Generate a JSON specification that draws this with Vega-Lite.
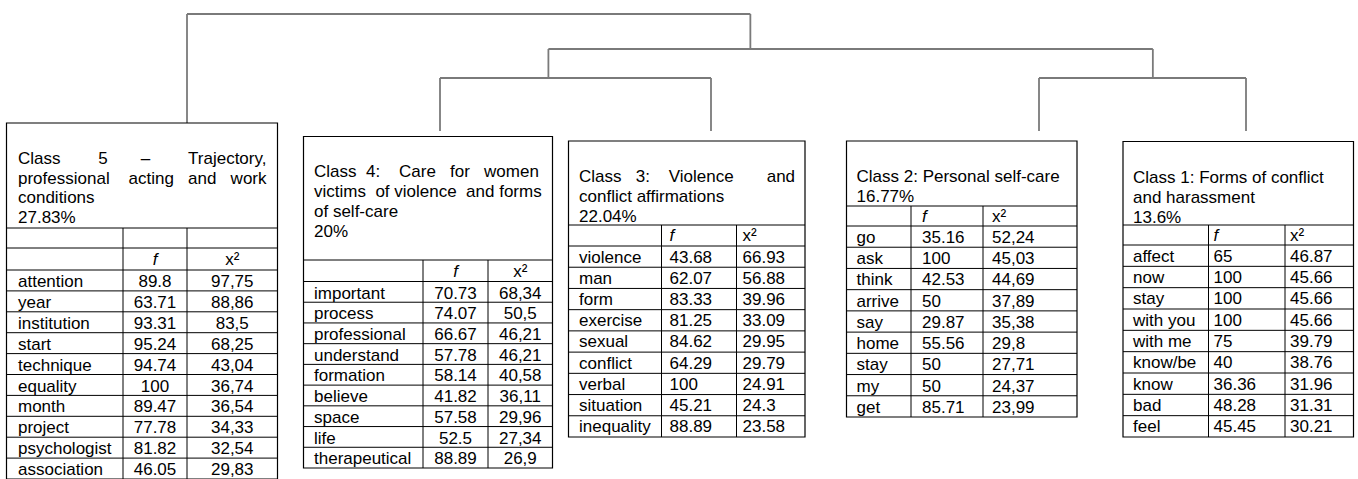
{
  "$schema": "https://vega.github.io/schema/vega-lite/v6.json",
  "width": 1358,
  "height": 479,
  "padding": 0,
  "autosize": {"type": "none"},
  "background": "#ffffff",
  "config": {
    "view": {"stroke": null},
    "axis": {"disable": true},
    "text": {"font": "Liberation Sans", "fontSize": 17, "color": "#000000"},
    "rule": {"color": "#000000", "strokeWidth": 1}
  },
  "datasets": {
    "tree": [
      {"seg": "class 5", "pos": 1, "pos2": 1, "level": 0, "level2": 3},
      {"seg": "class 4", "pos": 2, "pos2": 2, "level": 0, "level2": 1},
      {"seg": "class 3", "pos": 3, "pos2": 3, "level": 0, "level2": 1},
      {"seg": "class 2", "pos": 4, "pos2": 4, "level": 0, "level2": 1},
      {"seg": "class 1", "pos": 5, "pos2": 5, "level": 0, "level2": 1},
      {"seg": "4+3", "pos": 2, "pos2": 3, "level": 1, "level2": 1},
      {"seg": "2+1", "pos": 4, "pos2": 5, "level": 1, "level2": 1},
      {"seg": "4+3 up", "pos": 2.4, "pos2": 2.4, "level": 1, "level2": 2},
      {"seg": "2+1 up", "pos": 4.55, "pos2": 4.55, "level": 1, "level2": 2},
      {"seg": "(4+3)+(2+1)", "pos": 2.4, "pos2": 4.55, "level": 2, "level2": 2},
      {"seg": "(4+3)+(2+1) up", "pos": 3.12, "pos2": 3.12, "level": 2, "level2": 3},
      {"seg": "5+rest", "pos": 1, "pos2": 3.12, "level": 3, "level2": 3}
    ],
    "classes": [
      {"cls": 5, "title": "Class\u00a0\u00a0\u00a0\u00a0\u00a0\u00a0\u00a0\u00a05\u00a0\u00a0\u00a0\u00a0\u00a0\u00a0\u00a0–\u00a0\u00a0\u00a0\u00a0\u00a0\u00a0\u00a0\u00a0Trajectory,\nprofessional\u00a0\u00a0\u00a0\u00a0acting\u00a0\u00a0\u00a0and\u00a0\u00a0\u00a0work\nconditions\n27.83%"},
      {"cls": 4, "title": "Class\u00a0\u00a04:\u00a0\u00a0\u00a0\u00a0Care\u00a0\u00a0\u00a0for\u00a0\u00a0\u00a0women\nvictims\u00a0\u00a0of violence\u00a0\u00a0and forms\nof self-care\n20%"},
      {"cls": 3, "title": "Class\u00a0\u00a0\u00a03:\u00a0\u00a0\u00a0\u00a0Violence\u00a0\u00a0\u00a0\u00a0\u00a0\u00a0\u00a0and\nconflict affirmations\n22.04%"},
      {"cls": 2, "title": "Class 2: Personal self-care\n16.77%"},
      {"cls": 1, "title": "Class 1: Forms of conflict\nand harassment\n13.6%"}
    ],
    "words": [
      {"cls": 5, "rank": 1, "word": "attention", "f": 89.8, "chi": "97,75"},
      {"cls": 5, "rank": 2, "word": "year", "f": 63.71, "chi": "88,86"},
      {"cls": 5, "rank": 3, "word": "institution", "f": 93.31, "chi": "83,5"},
      {"cls": 5, "rank": 4, "word": "start", "f": 95.24, "chi": "68,25"},
      {"cls": 5, "rank": 5, "word": "technique", "f": 94.74, "chi": "43,04"},
      {"cls": 5, "rank": 6, "word": "equality", "f": 100, "chi": "36,74"},
      {"cls": 5, "rank": 7, "word": "month", "f": 89.47, "chi": "36,54"},
      {"cls": 5, "rank": 8, "word": "project", "f": 77.78, "chi": "34,33"},
      {"cls": 5, "rank": 9, "word": "psychologist", "f": 81.82, "chi": "32,54"},
      {"cls": 5, "rank": 10, "word": "association", "f": 46.05, "chi": "29,83"},
      {"cls": 4, "rank": 1, "word": "important", "f": 70.73, "chi": "68,34"},
      {"cls": 4, "rank": 2, "word": "process", "f": 74.07, "chi": "50,5"},
      {"cls": 4, "rank": 3, "word": "professional", "f": 66.67, "chi": "46,21"},
      {"cls": 4, "rank": 4, "word": "understand", "f": 57.78, "chi": "46,21"},
      {"cls": 4, "rank": 5, "word": "formation", "f": 58.14, "chi": "40,58"},
      {"cls": 4, "rank": 6, "word": "believe", "f": 41.82, "chi": "36,11"},
      {"cls": 4, "rank": 7, "word": "space", "f": 57.58, "chi": "29,96"},
      {"cls": 4, "rank": 8, "word": "life", "f": 52.5, "chi": "27,34"},
      {"cls": 4, "rank": 9, "word": "therapeutical", "f": 88.89, "chi": "26,9"},
      {"cls": 3, "rank": 1, "word": "violence", "f": 43.68, "chi": "66.93"},
      {"cls": 3, "rank": 2, "word": "man", "f": 62.07, "chi": "56.88"},
      {"cls": 3, "rank": 3, "word": "form", "f": 83.33, "chi": "39.96"},
      {"cls": 3, "rank": 4, "word": "exercise", "f": 81.25, "chi": "33.09"},
      {"cls": 3, "rank": 5, "word": "sexual", "f": 84.62, "chi": "29.95"},
      {"cls": 3, "rank": 6, "word": "conflict", "f": 64.29, "chi": "29.79"},
      {"cls": 3, "rank": 7, "word": "verbal", "f": 100, "chi": "24.91"},
      {"cls": 3, "rank": 8, "word": "situation", "f": 45.21, "chi": "24.3"},
      {"cls": 3, "rank": 9, "word": "inequality", "f": 88.89, "chi": "23.58"},
      {"cls": 2, "rank": 1, "word": "go", "f": 35.16, "chi": "52,24"},
      {"cls": 2, "rank": 2, "word": "ask", "f": 100, "chi": "45,03"},
      {"cls": 2, "rank": 3, "word": "think", "f": 42.53, "chi": "44,69"},
      {"cls": 2, "rank": 4, "word": "arrive", "f": 50, "chi": "37,89"},
      {"cls": 2, "rank": 5, "word": "say", "f": 29.87, "chi": "35,38"},
      {"cls": 2, "rank": 6, "word": "home", "f": 55.56, "chi": "29,8"},
      {"cls": 2, "rank": 7, "word": "stay", "f": 50, "chi": "27,71"},
      {"cls": 2, "rank": 8, "word": "my", "f": 50, "chi": "24,37"},
      {"cls": 2, "rank": 9, "word": "get", "f": 85.71, "chi": "23,99"},
      {"cls": 1, "rank": 1, "word": "affect", "f": 65, "chi": "46.87"},
      {"cls": 1, "rank": 2, "word": "now", "f": 100, "chi": "45.66"},
      {"cls": 1, "rank": 3, "word": "stay", "f": 100, "chi": "45.66"},
      {"cls": 1, "rank": 4, "word": "with you", "f": 100, "chi": "45.66"},
      {"cls": 1, "rank": 5, "word": "with me", "f": 75, "chi": "39.79"},
      {"cls": 1, "rank": 6, "word": "know/be", "f": 40, "chi": "38.76"},
      {"cls": 1, "rank": 7, "word": "know", "f": 36.36, "chi": "31.96"},
      {"cls": 1, "rank": 8, "word": "bad", "f": 48.28, "chi": "31.31"},
      {"cls": 1, "rank": 9, "word": "feel", "f": 45.45, "chi": "30.21"}
    ]
  },
  "layer": [
    {
      "data": {"name": "tree"},
      "mark": {"type": "rule", "color": "#7a7a7a", "strokeWidth": 1.8},
      "encoding": {
        "x": {"field": "pos", "type": "quantitative", "axis": null, "scale": {"domain": [1, 2, 3, 4, 5], "range": [187, 440, 711, 1039, 1246], "nice": false, "zero": false}},
        "x2": {"field": "pos2"},
        "y": {"field": "level", "type": "quantitative", "axis": null, "scale": {"domain": [0, 1, 2, 3], "range": [131, 78, 49, 14], "nice": false, "zero": false}},
        "y2": {"field": "level2"}
      }
    },
    {
      "data": {"name": "classes"},
      "transform": [{"filter": "datum.cls == 5"}],
      "layer": [
        {"mark": {"type": "rect", "fill": "#ffffff", "stroke": "#000000", "strokeWidth": 1.2},
         "encoding": {
           "x": {"datum": 0, "type": "quantitative", "axis": null, "scale": {"domain": [0, 1, 2, 3], "range": [6.5, 123, 187, 277.5], "nice": false, "zero": false}},
           "x2": {"datum": 3},
           "y": {"datum": -2, "type": "quantitative", "axis": null, "scale": {"domain": [-2, -1, 0, 1, 11], "range": [123, 228, 248, 270, 479], "nice": false, "zero": false}},
           "y2": {"datum": 11}}},
        {"mark": {"type": "rule"}, "encoding": {"x": {"datum": 0, "type": "quantitative", "axis": null}, "x2": {"datum": 3}, "y": {"datum": -1, "type": "quantitative", "axis": null}}},
        {"mark": {"type": "rule"}, "encoding": {"x": {"datum": 0, "type": "quantitative", "axis": null}, "x2": {"datum": 3}, "y": {"datum": 0, "type": "quantitative", "axis": null}}},
        {"mark": {"type": "rule"}, "encoding": {"x": {"datum": 1, "type": "quantitative", "axis": null}, "y": {"datum": -1, "type": "quantitative", "axis": null}, "y2": {"datum": 11}}},
        {"mark": {"type": "rule"}, "encoding": {"x": {"datum": 2, "type": "quantitative", "axis": null}, "y": {"datum": -1, "type": "quantitative", "axis": null}, "y2": {"datum": 11}}},
        {"mark": {"type": "text", "align": "left", "baseline": "top", "dx": 11.5, "dy": 28, "lineBreak": "\n", "lineHeight": 19.5},
         "encoding": {"x": {"datum": 0, "type": "quantitative", "axis": null}, "y": {"datum": -2, "type": "quantitative", "axis": null}, "text": {"field": "title", "type": "nominal"}}},
        {"mark": {"type": "text", "text": "f", "fontStyle": "italic", "align": "center", "baseline": "alphabetic", "dy": 17},
         "encoding": {"x": {"datum": 1.5, "type": "quantitative", "axis": null}, "y": {"datum": 0, "type": "quantitative", "axis": null}}},
        {"mark": {"type": "text", "text": "x²", "align": "center", "baseline": "alphabetic", "dy": 17},
         "encoding": {"x": {"datum": 2.5, "type": "quantitative", "axis": null}, "y": {"datum": 0, "type": "quantitative", "axis": null}}},
        {"data": {"name": "words"}, "transform": [{"filter": "datum.cls == 5"}],
         "layer": [
           {"mark": {"type": "rule"}, "encoding": {"x": {"datum": 0, "type": "quantitative", "axis": null}, "x2": {"datum": 3}, "y": {"field": "rank", "type": "quantitative", "axis": null}}},
           {"mark": {"type": "text", "align": "left", "baseline": "alphabetic", "dx": 11.5, "dy": 17}, "encoding": {"x": {"datum": 0, "type": "quantitative", "axis": null}, "y": {"field": "rank", "type": "quantitative", "axis": null}, "text": {"field": "word", "type": "nominal"}}},
           {"mark": {"type": "text", "align": "center", "baseline": "alphabetic", "dy": 17}, "encoding": {"x": {"datum": 1.5, "type": "quantitative", "axis": null}, "y": {"field": "rank", "type": "quantitative", "axis": null}, "text": {"field": "f", "type": "nominal"}}},
           {"mark": {"type": "text", "align": "center", "baseline": "alphabetic", "dy": 17}, "encoding": {"x": {"datum": 2.5, "type": "quantitative", "axis": null}, "y": {"field": "rank", "type": "quantitative", "axis": null}, "text": {"field": "chi", "type": "nominal"}}}
         ]}
      ]
    },
    {
      "data": {"name": "classes"},
      "transform": [{"filter": "datum.cls == 4"}],
      "layer": [
        {"mark": {"type": "rect", "fill": "#ffffff", "stroke": "#000000", "strokeWidth": 1.2},
         "encoding": {
           "x": {"datum": 0, "type": "quantitative", "axis": null, "scale": {"domain": [0, 1, 2, 3], "range": [303.5, 423, 488, 552.5], "nice": false, "zero": false}},
           "x2": {"datum": 3},
           "y": {"datum": -1, "type": "quantitative", "axis": null, "scale": {"domain": [-1, 0, 1, 10], "range": [136.5, 260, 281.5, 468], "nice": false, "zero": false}},
           "y2": {"datum": 10}}},
        {"mark": {"type": "rule"}, "encoding": {"x": {"datum": 0, "type": "quantitative", "axis": null}, "x2": {"datum": 3}, "y": {"datum": 0, "type": "quantitative", "axis": null}}},
        {"mark": {"type": "rule"}, "encoding": {"x": {"datum": 1, "type": "quantitative", "axis": null}, "y": {"datum": 0, "type": "quantitative", "axis": null}, "y2": {"datum": 10}}},
        {"mark": {"type": "rule"}, "encoding": {"x": {"datum": 2, "type": "quantitative", "axis": null}, "y": {"datum": 0, "type": "quantitative", "axis": null}, "y2": {"datum": 10}}},
        {"mark": {"type": "text", "align": "left", "baseline": "top", "dx": 10.5, "dy": 27, "lineBreak": "\n", "lineHeight": 20},
         "encoding": {"x": {"datum": 0, "type": "quantitative", "axis": null}, "y": {"datum": -1, "type": "quantitative", "axis": null}, "text": {"field": "title", "type": "nominal"}}},
        {"mark": {"type": "text", "text": "f", "fontStyle": "italic", "align": "center", "baseline": "alphabetic", "dy": 17},
         "encoding": {"x": {"datum": 1.5, "type": "quantitative", "axis": null}, "y": {"datum": 0, "type": "quantitative", "axis": null}}},
        {"mark": {"type": "text", "text": "x²", "align": "center", "baseline": "alphabetic", "dy": 17},
         "encoding": {"x": {"datum": 2.5, "type": "quantitative", "axis": null}, "y": {"datum": 0, "type": "quantitative", "axis": null}}},
        {"data": {"name": "words"}, "transform": [{"filter": "datum.cls == 4"}],
         "layer": [
           {"mark": {"type": "rule"}, "encoding": {"x": {"datum": 0, "type": "quantitative", "axis": null}, "x2": {"datum": 3}, "y": {"field": "rank", "type": "quantitative", "axis": null}}},
           {"mark": {"type": "text", "align": "left", "baseline": "alphabetic", "dx": 10.5, "dy": 17}, "encoding": {"x": {"datum": 0, "type": "quantitative", "axis": null}, "y": {"field": "rank", "type": "quantitative", "axis": null}, "text": {"field": "word", "type": "nominal"}}},
           {"mark": {"type": "text", "align": "center", "baseline": "alphabetic", "dy": 17}, "encoding": {"x": {"datum": 1.5, "type": "quantitative", "axis": null}, "y": {"field": "rank", "type": "quantitative", "axis": null}, "text": {"field": "f", "type": "nominal"}}},
           {"mark": {"type": "text", "align": "center", "baseline": "alphabetic", "dy": 17}, "encoding": {"x": {"datum": 2.5, "type": "quantitative", "axis": null}, "y": {"field": "rank", "type": "quantitative", "axis": null}, "text": {"field": "chi", "type": "nominal"}}}
         ]}
      ]
    },
    {
      "data": {"name": "classes"},
      "transform": [{"filter": "datum.cls == 3"}],
      "layer": [
        {"mark": {"type": "rect", "fill": "#ffffff", "stroke": "#000000", "strokeWidth": 1.2},
         "encoding": {
           "x": {"datum": 0, "type": "quantitative", "axis": null, "scale": {"domain": [0, 1, 2, 3], "range": [568.5, 661.5, 736.5, 805], "nice": false, "zero": false}},
           "x2": {"datum": 3},
           "y": {"datum": -1, "type": "quantitative", "axis": null, "scale": {"domain": [-1, 0, 1, 10], "range": [141, 225, 246, 437], "nice": false, "zero": false}},
           "y2": {"datum": 10}}},
        {"mark": {"type": "rule"}, "encoding": {"x": {"datum": 0, "type": "quantitative", "axis": null}, "x2": {"datum": 3}, "y": {"datum": 0, "type": "quantitative", "axis": null}}},
        {"mark": {"type": "rule"}, "encoding": {"x": {"datum": 1, "type": "quantitative", "axis": null}, "y": {"datum": 0, "type": "quantitative", "axis": null}, "y2": {"datum": 10}}},
        {"mark": {"type": "rule"}, "encoding": {"x": {"datum": 2, "type": "quantitative", "axis": null}, "y": {"datum": 0, "type": "quantitative", "axis": null}, "y2": {"datum": 10}}},
        {"mark": {"type": "text", "align": "left", "baseline": "top", "dx": 10.5, "dy": 28, "lineBreak": "\n", "lineHeight": 20},
         "encoding": {"x": {"datum": 0, "type": "quantitative", "axis": null}, "y": {"datum": -1, "type": "quantitative", "axis": null}, "text": {"field": "title", "type": "nominal"}}},
        {"mark": {"type": "text", "text": "f", "fontStyle": "italic", "align": "left", "baseline": "alphabetic", "dx": 8, "dy": 16},
         "encoding": {"x": {"datum": 1, "type": "quantitative", "axis": null}, "y": {"datum": 0, "type": "quantitative", "axis": null}}},
        {"mark": {"type": "text", "text": "x²", "align": "left", "baseline": "alphabetic", "dx": 6, "dy": 16},
         "encoding": {"x": {"datum": 2, "type": "quantitative", "axis": null}, "y": {"datum": 0, "type": "quantitative", "axis": null}}},
        {"data": {"name": "words"}, "transform": [{"filter": "datum.cls == 3"}],
         "layer": [
           {"mark": {"type": "rule"}, "encoding": {"x": {"datum": 0, "type": "quantitative", "axis": null}, "x2": {"datum": 3}, "y": {"field": "rank", "type": "quantitative", "axis": null}}},
           {"mark": {"type": "text", "align": "left", "baseline": "alphabetic", "dx": 10.5, "dy": 16.5}, "encoding": {"x": {"datum": 0, "type": "quantitative", "axis": null}, "y": {"field": "rank", "type": "quantitative", "axis": null}, "text": {"field": "word", "type": "nominal"}}},
           {"mark": {"type": "text", "align": "left", "baseline": "alphabetic", "dx": 8, "dy": 16.5}, "encoding": {"x": {"datum": 1, "type": "quantitative", "axis": null}, "y": {"field": "rank", "type": "quantitative", "axis": null}, "text": {"field": "f", "type": "nominal"}}},
           {"mark": {"type": "text", "align": "left", "baseline": "alphabetic", "dx": 6, "dy": 16.5}, "encoding": {"x": {"datum": 2, "type": "quantitative", "axis": null}, "y": {"field": "rank", "type": "quantitative", "axis": null}, "text": {"field": "chi", "type": "nominal"}}}
         ]}
      ]
    },
    {
      "data": {"name": "classes"},
      "transform": [{"filter": "datum.cls == 2"}],
      "layer": [
        {"mark": {"type": "rect", "fill": "#ffffff", "stroke": "#000000", "strokeWidth": 1.2},
         "encoding": {
           "x": {"datum": 0, "type": "quantitative", "axis": null, "scale": {"domain": [0, 1, 2, 3], "range": [846.5, 911, 983, 1077], "nice": false, "zero": false}},
           "x2": {"datum": 3},
           "y": {"datum": -1, "type": "quantitative", "axis": null, "scale": {"domain": [-1, 0, 1, 10], "range": [141, 206, 226, 417], "nice": false, "zero": false}},
           "y2": {"datum": 10}}},
        {"mark": {"type": "rule"}, "encoding": {"x": {"datum": 0, "type": "quantitative", "axis": null}, "x2": {"datum": 3}, "y": {"datum": 0, "type": "quantitative", "axis": null}}},
        {"mark": {"type": "rule"}, "encoding": {"x": {"datum": 1, "type": "quantitative", "axis": null}, "y": {"datum": 0, "type": "quantitative", "axis": null}, "y2": {"datum": 10}}},
        {"mark": {"type": "rule"}, "encoding": {"x": {"datum": 2, "type": "quantitative", "axis": null}, "y": {"datum": 0, "type": "quantitative", "axis": null}, "y2": {"datum": 10}}},
        {"mark": {"type": "text", "align": "left", "baseline": "top", "dx": 10, "dy": 28, "lineBreak": "\n", "lineHeight": 20},
         "encoding": {"x": {"datum": 0, "type": "quantitative", "axis": null}, "y": {"datum": -1, "type": "quantitative", "axis": null}, "text": {"field": "title", "type": "nominal"}}},
        {"mark": {"type": "text", "text": "f", "fontStyle": "italic", "align": "left", "baseline": "alphabetic", "dx": 11, "dy": 16},
         "encoding": {"x": {"datum": 1, "type": "quantitative", "axis": null}, "y": {"datum": 0, "type": "quantitative", "axis": null}}},
        {"mark": {"type": "text", "text": "x²", "align": "left", "baseline": "alphabetic", "dx": 9, "dy": 16},
         "encoding": {"x": {"datum": 2, "type": "quantitative", "axis": null}, "y": {"datum": 0, "type": "quantitative", "axis": null}}},
        {"data": {"name": "words"}, "transform": [{"filter": "datum.cls == 2"}],
         "layer": [
           {"mark": {"type": "rule"}, "encoding": {"x": {"datum": 0, "type": "quantitative", "axis": null}, "x2": {"datum": 3}, "y": {"field": "rank", "type": "quantitative", "axis": null}}},
           {"mark": {"type": "text", "align": "left", "baseline": "alphabetic", "dx": 10, "dy": 17}, "encoding": {"x": {"datum": 0, "type": "quantitative", "axis": null}, "y": {"field": "rank", "type": "quantitative", "axis": null}, "text": {"field": "word", "type": "nominal"}}},
           {"mark": {"type": "text", "align": "left", "baseline": "alphabetic", "dx": 11, "dy": 17}, "encoding": {"x": {"datum": 1, "type": "quantitative", "axis": null}, "y": {"field": "rank", "type": "quantitative", "axis": null}, "text": {"field": "f", "type": "nominal"}}},
           {"mark": {"type": "text", "align": "left", "baseline": "alphabetic", "dx": 9, "dy": 17}, "encoding": {"x": {"datum": 2, "type": "quantitative", "axis": null}, "y": {"field": "rank", "type": "quantitative", "axis": null}, "text": {"field": "chi", "type": "nominal"}}}
         ]}
      ]
    },
    {
      "data": {"name": "classes"},
      "transform": [{"filter": "datum.cls == 1"}],
      "layer": [
        {"mark": {"type": "rect", "fill": "#ffffff", "stroke": "#000000", "strokeWidth": 1.2},
         "encoding": {
           "x": {"datum": 0, "type": "quantitative", "axis": null, "scale": {"domain": [0, 1, 2, 3], "range": [1123, 1208.5, 1285, 1353.5], "nice": false, "zero": false}},
           "x2": {"datum": 3},
           "y": {"datum": -1, "type": "quantitative", "axis": null, "scale": {"domain": [-1, 0, 1, 10], "range": [141.5, 225, 245, 437], "nice": false, "zero": false}},
           "y2": {"datum": 10}}},
        {"mark": {"type": "rule"}, "encoding": {"x": {"datum": 0, "type": "quantitative", "axis": null}, "x2": {"datum": 3}, "y": {"datum": 0, "type": "quantitative", "axis": null}}},
        {"mark": {"type": "rule"}, "encoding": {"x": {"datum": 1, "type": "quantitative", "axis": null}, "y": {"datum": 0, "type": "quantitative", "axis": null}, "y2": {"datum": 10}}},
        {"mark": {"type": "rule"}, "encoding": {"x": {"datum": 2, "type": "quantitative", "axis": null}, "y": {"datum": 0, "type": "quantitative", "axis": null}, "y2": {"datum": 10}}},
        {"mark": {"type": "text", "align": "left", "baseline": "top", "dx": 10, "dy": 28, "lineBreak": "\n", "lineHeight": 20},
         "encoding": {"x": {"datum": 0, "type": "quantitative", "axis": null}, "y": {"datum": -1, "type": "quantitative", "axis": null}, "text": {"field": "title", "type": "nominal"}}},
        {"mark": {"type": "text", "text": "f", "fontStyle": "italic", "align": "left", "baseline": "alphabetic", "dx": 5, "dy": 16},
         "encoding": {"x": {"datum": 1, "type": "quantitative", "axis": null}, "y": {"datum": 0, "type": "quantitative", "axis": null}}},
        {"mark": {"type": "text", "text": "x²", "align": "left", "baseline": "alphabetic", "dx": 5, "dy": 16},
         "encoding": {"x": {"datum": 2, "type": "quantitative", "axis": null}, "y": {"datum": 0, "type": "quantitative", "axis": null}}},
        {"data": {"name": "words"}, "transform": [{"filter": "datum.cls == 1"}],
         "layer": [
           {"mark": {"type": "rule"}, "encoding": {"x": {"datum": 0, "type": "quantitative", "axis": null}, "x2": {"datum": 3}, "y": {"field": "rank", "type": "quantitative", "axis": null}}},
           {"mark": {"type": "text", "align": "left", "baseline": "alphabetic", "dx": 10, "dy": 16.5}, "encoding": {"x": {"datum": 0, "type": "quantitative", "axis": null}, "y": {"field": "rank", "type": "quantitative", "axis": null}, "text": {"field": "word", "type": "nominal"}}},
           {"mark": {"type": "text", "align": "left", "baseline": "alphabetic", "dx": 5, "dy": 16.5}, "encoding": {"x": {"datum": 1, "type": "quantitative", "axis": null}, "y": {"field": "rank", "type": "quantitative", "axis": null}, "text": {"field": "f", "type": "nominal"}}},
           {"mark": {"type": "text", "align": "left", "baseline": "alphabetic", "dx": 5, "dy": 16.5}, "encoding": {"x": {"datum": 2, "type": "quantitative", "axis": null}, "y": {"field": "rank", "type": "quantitative", "axis": null}, "text": {"field": "chi", "type": "nominal"}}}
         ]}
      ]
    }
  ],
  "resolve": {"scale": {"x": "independent", "y": "independent"}}
}
